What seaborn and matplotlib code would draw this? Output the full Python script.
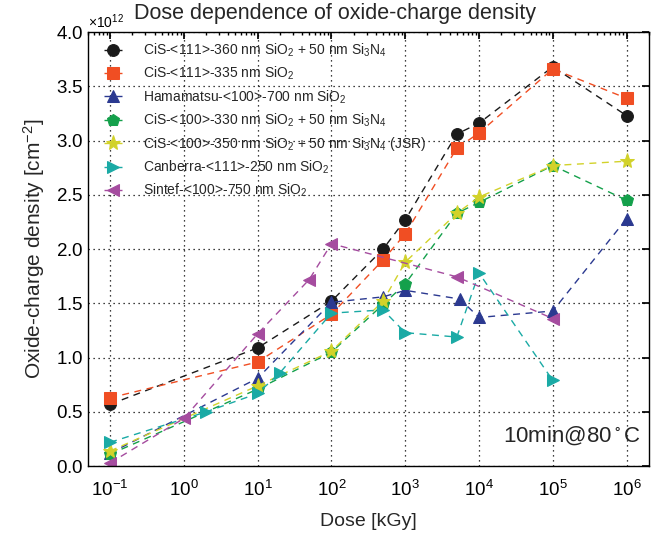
import numpy as np
import matplotlib
matplotlib.use("Agg")
import matplotlib.pyplot as plt
import seaborn as sns
from matplotlib.ticker import ScalarFormatter, NullFormatter

# dose [kGy] and oxide-charge density [1e12 cm^-2]
dose_cis = [0.1, 10, 100, 500, 1000, 5000, 1e4, 1e5, 1e6]
dose_ham = [0.1, 10, 100, 500, 1000, 5500, 1e4, 1e5, 1e6]
dose_can = [0.1, 2, 10, 20, 100, 500, 1000, 5000, 1e4, 1e5]
dose_sin = [0.1, 1, 10, 50, 100, 5000, 1e5]

cis111_sin = [0.57, 1.09, 1.52, 2.00, 2.27, 3.06, 3.16, 3.68, 3.23]
cis111 = [0.63, 0.96, 1.40, 1.90, 2.14, 2.93, 3.07, 3.66, 3.39]
hamamatsu = [0.12, 0.81, 1.51, 1.56, 1.62, 1.54, 1.37, 1.43, 2.28]
cis100_sin = [0.11, 0.71, 1.05, 1.49, 1.68, 2.33, 2.43, 2.77, 2.45]
cis100_jsr = [0.14, 0.74, 1.06, 1.52, 1.88, 2.33, 2.48, 2.77, 2.81]
canberra = [0.22, 0.50, 0.67, 0.86, 1.41, 1.44, 1.23, 1.19, 1.78, 0.79]
sintef = [0.03, 0.44, 1.22, 1.72, 2.05, 1.745, 1.36]

labels = [
    "CiS-<111>-360 nm SiO$_2$ + 50 nm Si$_3$N$_4$",
    "CiS-<111>-335 nm SiO$_2$",
    "Hamamatsu-<100>-700 nm SiO$_2$",
    "CiS-<100>-330 nm SiO$_2$ + 50 nm Si$_3$N$_4$",
    "CiS-<100>-350 nm SiO$_2$ + 50 nm Si$_3$N$_4$ (JSR)",
    "Canberra-<111>-250 nm SiO$_2$",
    "Sintef-<100>-750 nm SiO$_2$",
]
series = [
    (dose_cis, cis111_sin, "#1a1a1a", "o", 8.5),
    (dose_cis, cis111, "#f04e23", "s", 8),
    (dose_ham, hamamatsu, "#2b3990", "^", 9),
    (dose_cis, cis100_sin, "#14a04b", "p", 9),
    (dose_cis, cis100_jsr, "#d2d22a", "*", 11),
    (dose_can, canberra, "#1aaaa5", ">", 9),
    (dose_sin, sintef, "#a54c9f", "<", 9),
]

sns.set_theme(style="white")
plt.rcParams["font.family"] = ["Liberation Sans", "DejaVu Sans"]
plt.rcParams["mathtext.default"] = "regular"

fig = plt.figure(figsize=(6.56, 5.34), dpi=100)
ax = fig.add_axes([0.134, 0.127, 0.855, 0.813])

for (x, y, c, m, ms), lab in zip(series, labels):
    yv = np.array(y) * 1e12
    sns.lineplot(x=x, y=yv, ax=ax, color=c, marker=m, markersize=ms,
                 markeredgecolor=c, markerfacecolor=c, linestyle="--",
                 linewidth=1.0, dashes=False, label=lab, estimator=None,
                 sort=False)
    ax.lines[-1].set_linestyle((0, (5, 4)))

ax.set_xscale("log")
ax.set_xlim(0.05, 2e6)
ax.set_ylim(0, 4e12)
ax.set_yticks(np.arange(0, 4.01, 0.5) * 1e12)
ax.xaxis.set_minor_formatter(NullFormatter())

fmt = ScalarFormatter(useMathText=True)
fmt.set_powerlimits((0, 0))
ax.yaxis.set_major_formatter(fmt)
ax.yaxis.get_offset_text().set_fontsize(10)
ax.yaxis.get_offset_text().set_color("#444444")

ax.grid(True, which="major", linestyle=(0, (1, 3)), color="black",
        linewidth=0.9)
ax.tick_params(which="both", direction="in", top=True, right=True,
               labelsize=13.5, colors="black")
ax.tick_params(which="major", length=5)
ax.tick_params(which="minor", length=2.5)
ax.tick_params(axis="x", which="major", pad=10)
for sp in ax.spines.values():
    sp.set_color("black")
    sp.set_linewidth(1.0)

ax.set_xlabel("Dose [kGy]", fontsize=14, labelpad=9)
ax.set_ylabel("Oxide-charge density [cm$^{-2}$]", fontsize=15, labelpad=6)
fig.text(0.51, 0.975, "Dose dependence of oxide-charge density",
         ha="center", va="center", fontsize=15.5)

ax.legend(loc="upper left", frameon=False, fontsize=10, handlelength=1.3,
          handletextpad=1.5, labelspacing=0.42, borderaxespad=0.3,
          bbox_to_anchor=(0.012, 1.0))

ax.text(0.985, 0.045, "10min@80$^\\circ$C", transform=ax.transAxes,
        ha="right", va="bottom", fontsize=16)

fig.savefig("out.png", dpi=100)
